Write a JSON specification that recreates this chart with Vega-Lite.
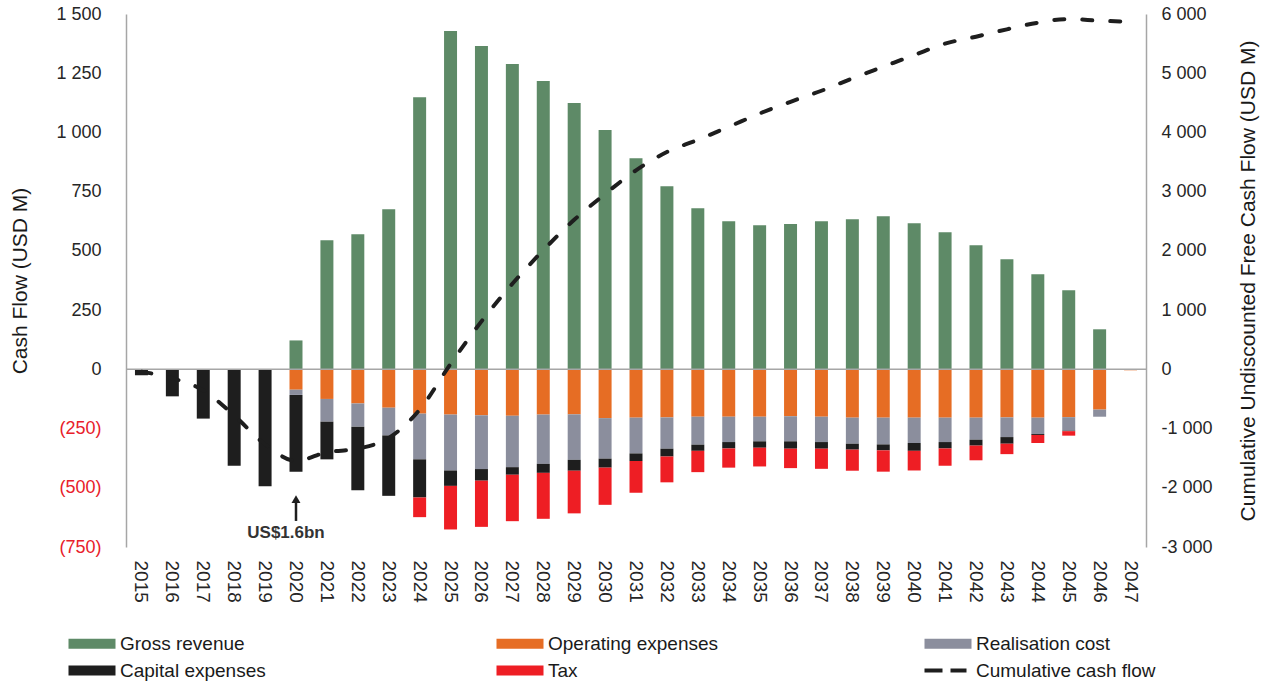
{
  "$schema": "https://vega.github.io/schema/vega-lite/v6.json",
  "width": 1020,
  "height": 533,
  "autosize": "none",
  "padding": {"left": 126, "top": 14, "right": 122, "bottom": 134},
  "background": "white",
  "config": {
    "view": {"stroke": null},
    "font": "Liberation Sans",
    "axis": {"labelFont": "Liberation Sans", "titleFont": "Liberation Sans", "titleFontWeight": "normal", "grid": false, "ticks": false}
  },
  "datasets": {
    "flows": [
      {"year": 2015, "category": "Capital expenses", "value": -25},
      {"year": 2016, "category": "Capital expenses", "value": -114},
      {"year": 2017, "category": "Capital expenses", "value": -208},
      {"year": 2018, "category": "Capital expenses", "value": -407},
      {"year": 2019, "category": "Capital expenses", "value": -494},
      {"year": 2020, "category": "Gross revenue", "value": 122},
      {"year": 2020, "category": "Operating expenses", "value": -86},
      {"year": 2020, "category": "Realisation cost", "value": -22},
      {"year": 2020, "category": "Capital expenses", "value": -324},
      {"year": 2021, "category": "Gross revenue", "value": 545},
      {"year": 2021, "category": "Operating expenses", "value": -125},
      {"year": 2021, "category": "Realisation cost", "value": -96},
      {"year": 2021, "category": "Capital expenses", "value": -159},
      {"year": 2022, "category": "Gross revenue", "value": 570},
      {"year": 2022, "category": "Operating expenses", "value": -144},
      {"year": 2022, "category": "Realisation cost", "value": -98},
      {"year": 2022, "category": "Capital expenses", "value": -268},
      {"year": 2023, "category": "Gross revenue", "value": 676},
      {"year": 2023, "category": "Operating expenses", "value": -162},
      {"year": 2023, "category": "Realisation cost", "value": -117},
      {"year": 2023, "category": "Capital expenses", "value": -255},
      {"year": 2024, "category": "Gross revenue", "value": 1149},
      {"year": 2024, "category": "Operating expenses", "value": -187},
      {"year": 2024, "category": "Realisation cost", "value": -193},
      {"year": 2024, "category": "Capital expenses", "value": -161},
      {"year": 2024, "category": "Tax", "value": -83},
      {"year": 2025, "category": "Gross revenue", "value": 1428},
      {"year": 2025, "category": "Operating expenses", "value": -191},
      {"year": 2025, "category": "Realisation cost", "value": -236},
      {"year": 2025, "category": "Capital expenses", "value": -65},
      {"year": 2025, "category": "Tax", "value": -184},
      {"year": 2026, "category": "Gross revenue", "value": 1365},
      {"year": 2026, "category": "Operating expenses", "value": -194},
      {"year": 2026, "category": "Realisation cost", "value": -227},
      {"year": 2026, "category": "Capital expenses", "value": -49},
      {"year": 2026, "category": "Tax", "value": -195},
      {"year": 2027, "category": "Gross revenue", "value": 1289},
      {"year": 2027, "category": "Operating expenses", "value": -196},
      {"year": 2027, "category": "Realisation cost", "value": -217},
      {"year": 2027, "category": "Capital expenses", "value": -32},
      {"year": 2027, "category": "Tax", "value": -196},
      {"year": 2028, "category": "Gross revenue", "value": 1217},
      {"year": 2028, "category": "Operating expenses", "value": -191},
      {"year": 2028, "category": "Realisation cost", "value": -208},
      {"year": 2028, "category": "Capital expenses", "value": -38},
      {"year": 2028, "category": "Tax", "value": -194},
      {"year": 2029, "category": "Gross revenue", "value": 1124},
      {"year": 2029, "category": "Operating expenses", "value": -190},
      {"year": 2029, "category": "Realisation cost", "value": -192},
      {"year": 2029, "category": "Capital expenses", "value": -46},
      {"year": 2029, "category": "Tax", "value": -180},
      {"year": 2030, "category": "Gross revenue", "value": 1010},
      {"year": 2030, "category": "Operating expenses", "value": -206},
      {"year": 2030, "category": "Realisation cost", "value": -171},
      {"year": 2030, "category": "Capital expenses", "value": -38},
      {"year": 2030, "category": "Tax", "value": -157},
      {"year": 2031, "category": "Gross revenue", "value": 891},
      {"year": 2031, "category": "Operating expenses", "value": -204},
      {"year": 2031, "category": "Realisation cost", "value": -151},
      {"year": 2031, "category": "Capital expenses", "value": -32},
      {"year": 2031, "category": "Tax", "value": -134},
      {"year": 2032, "category": "Gross revenue", "value": 773},
      {"year": 2032, "category": "Operating expenses", "value": -203},
      {"year": 2032, "category": "Realisation cost", "value": -132},
      {"year": 2032, "category": "Capital expenses", "value": -33},
      {"year": 2032, "category": "Tax", "value": -109},
      {"year": 2033, "category": "Gross revenue", "value": 680},
      {"year": 2033, "category": "Operating expenses", "value": -200},
      {"year": 2033, "category": "Realisation cost", "value": -118},
      {"year": 2033, "category": "Capital expenses", "value": -26},
      {"year": 2033, "category": "Tax", "value": -90},
      {"year": 2034, "category": "Gross revenue", "value": 625},
      {"year": 2034, "category": "Operating expenses", "value": -200},
      {"year": 2034, "category": "Realisation cost", "value": -107},
      {"year": 2034, "category": "Capital expenses", "value": -27},
      {"year": 2034, "category": "Tax", "value": -81},
      {"year": 2035, "category": "Gross revenue", "value": 608},
      {"year": 2035, "category": "Operating expenses", "value": -200},
      {"year": 2035, "category": "Realisation cost", "value": -104},
      {"year": 2035, "category": "Capital expenses", "value": -27},
      {"year": 2035, "category": "Tax", "value": -79},
      {"year": 2036, "category": "Gross revenue", "value": 613},
      {"year": 2036, "category": "Operating expenses", "value": -198},
      {"year": 2036, "category": "Realisation cost", "value": -106},
      {"year": 2036, "category": "Capital expenses", "value": -31},
      {"year": 2036, "category": "Tax", "value": -82},
      {"year": 2037, "category": "Gross revenue", "value": 625},
      {"year": 2037, "category": "Operating expenses", "value": -200},
      {"year": 2037, "category": "Realisation cost", "value": -107},
      {"year": 2037, "category": "Capital expenses", "value": -28},
      {"year": 2037, "category": "Tax", "value": -85},
      {"year": 2038, "category": "Gross revenue", "value": 634},
      {"year": 2038, "category": "Operating expenses", "value": -204},
      {"year": 2038, "category": "Realisation cost", "value": -110},
      {"year": 2038, "category": "Capital expenses", "value": -25},
      {"year": 2038, "category": "Tax", "value": -89},
      {"year": 2039, "category": "Gross revenue", "value": 646},
      {"year": 2039, "category": "Operating expenses", "value": -204},
      {"year": 2039, "category": "Realisation cost", "value": -113},
      {"year": 2039, "category": "Capital expenses", "value": -25},
      {"year": 2039, "category": "Tax", "value": -90},
      {"year": 2040, "category": "Gross revenue", "value": 617},
      {"year": 2040, "category": "Operating expenses", "value": -204},
      {"year": 2040, "category": "Realisation cost", "value": -107},
      {"year": 2040, "category": "Capital expenses", "value": -33},
      {"year": 2040, "category": "Tax", "value": -83},
      {"year": 2041, "category": "Gross revenue", "value": 579},
      {"year": 2041, "category": "Operating expenses", "value": -204},
      {"year": 2041, "category": "Realisation cost", "value": -103},
      {"year": 2041, "category": "Capital expenses", "value": -27},
      {"year": 2041, "category": "Tax", "value": -73},
      {"year": 2042, "category": "Gross revenue", "value": 524},
      {"year": 2042, "category": "Operating expenses", "value": -204},
      {"year": 2042, "category": "Realisation cost", "value": -93},
      {"year": 2042, "category": "Capital expenses", "value": -25},
      {"year": 2042, "category": "Tax", "value": -62},
      {"year": 2043, "category": "Gross revenue", "value": 465},
      {"year": 2043, "category": "Operating expenses", "value": -203},
      {"year": 2043, "category": "Realisation cost", "value": -83},
      {"year": 2043, "category": "Capital expenses", "value": -28},
      {"year": 2043, "category": "Tax", "value": -44},
      {"year": 2044, "category": "Gross revenue", "value": 401},
      {"year": 2044, "category": "Operating expenses", "value": -204},
      {"year": 2044, "category": "Realisation cost", "value": -69},
      {"year": 2044, "category": "Capital expenses", "value": -4},
      {"year": 2044, "category": "Tax", "value": -34},
      {"year": 2045, "category": "Gross revenue", "value": 334},
      {"year": 2045, "category": "Operating expenses", "value": -202},
      {"year": 2045, "category": "Realisation cost", "value": -57},
      {"year": 2045, "category": "Capital expenses", "value": -2},
      {"year": 2045, "category": "Tax", "value": -19},
      {"year": 2046, "category": "Gross revenue", "value": 169},
      {"year": 2046, "category": "Operating expenses", "value": -170},
      {"year": 2046, "category": "Realisation cost", "value": -30},
      {"year": 2047, "category": "Operating expenses", "value": -4}
    ],
    "cum": [
      {"year": 2015, "cumulative": -40},
      {"year": 2016, "cumulative": -150},
      {"year": 2017, "cumulative": -355},
      {"year": 2018, "cumulative": -780},
      {"year": 2019, "cumulative": -1265},
      {"year": 2020, "cumulative": -1545},
      {"year": 2021, "cumulative": -1400},
      {"year": 2022, "cumulative": -1340},
      {"year": 2023, "cumulative": -1160},
      {"year": 2024, "cumulative": -680},
      {"year": 2025, "cumulative": 90},
      {"year": 2026, "cumulative": 810},
      {"year": 2027, "cumulative": 1445},
      {"year": 2028, "cumulative": 2011},
      {"year": 2029, "cumulative": 2525},
      {"year": 2030, "cumulative": 2960},
      {"year": 2031, "cumulative": 3360},
      {"year": 2032, "cumulative": 3670},
      {"year": 2033, "cumulative": 3875},
      {"year": 2034, "cumulative": 4095},
      {"year": 2035, "cumulative": 4320},
      {"year": 2036, "cumulative": 4518},
      {"year": 2037, "cumulative": 4704},
      {"year": 2038, "cumulative": 4913},
      {"year": 2039, "cumulative": 5110},
      {"year": 2040, "cumulative": 5307},
      {"year": 2041, "cumulative": 5500},
      {"year": 2042, "cumulative": 5617},
      {"year": 2043, "cumulative": 5741},
      {"year": 2044, "cumulative": 5853},
      {"year": 2045, "cumulative": 5915},
      {"year": 2046, "cumulative": 5887},
      {"year": 2047, "cumulative": 5870}
    ]
  },
  "layer": [
    {
      "layer": [
        {
          "data": {"name": "flows"},
          "transform": [
            {"calculate": "indexof(['Gross revenue','Operating expenses','Realisation cost','Capital expenses','Tax'], datum.category)", "as": "k"}
          ],
          "mark": {"type": "bar"},
          "encoding": {
            "x": {
              "field": "year", "type": "ordinal",
              "scale": {"paddingInner": 0.58, "paddingOuter": 0.29},
              "axis": {"title": null, "labelAngle": 90, "labelFontSize": 19, "labelPadding": 13, "domain": false, "ticks": false, "labelColor": "#262626"}
            },
            "y": {
              "field": "value", "type": "quantitative", "stack": "zero",
              "scale": {"domain": [-750, 1500], "nice": false, "zero": false},
              "axis": {
                "title": "Cash Flow (USD M)", "titleFontSize": 21, "titleColor": "#1a1a1a", "titlePadding": 25,
                "values": [-750, -500, -250, 0, 250, 500, 750, 1000, 1250, 1500],
                "labelExpr": "datum.value < 0 ? '(' + format(-datum.value, ',') + ')' : replace(format(datum.value, ','), ',', ' ')",
                "labelFontSize": 18, "labelPadding": 25,
                "labelColor": {"condition": {"test": "datum.value < 0", "value": "#e8202a"}, "value": "#262626"},
                "domainColor": "#a6a6a6", "domainWidth": 1.5, "ticks": false, "grid": false
              }
            },
            "color": {
              "field": "category", "type": "nominal",
              "scale": {
                "domain": ["Gross revenue", "Operating expenses", "Realisation cost", "Capital expenses", "Tax", "Cumulative cash flow"],
                "range": ["#5e8a67", "#e66d24", "#8b8e9d", "#1e1e1e", "#ee1e24", "#1e1e1e"]
              },
              "legend": {
                "title": null, "orient": "none", "legendX": -62, "legendY": 620, "direction": "horizontal",
                "columns": 3, "gridAlign": "all", "columnPadding": 192, "rowPadding": 7,
                "symbolSize": 100, "labelFontSize": 19, "labelFont": "Liberation Sans", "labelColor": "#1a1a1a",
                "labelLimit": 400, "labelOffset": 37, "symbolStrokeWidth": 0, "symbolOpacity": 1,
                "encode": {
                  "symbols": {
                    "update": {
                      "shape": {"signal": "datum.value === 'Cumulative cash flow' ? 'M-1,-0.4L2.6,-0.4L2.6,0.4L-1,0.4ZM4.2,-0.4L7.4,-0.4L7.4,0.4L4.2,0.4Z' : 'M-1,-1L8.4,-1L8.4,1L-1,1Z'"}
                    }
                  }
                }
              }
            },
            "order": {"field": "k", "type": "quantitative"}
          }
        },
        {
          "data": {"values": [{}]},
          "mark": {"type": "rule", "color": "#a6a6a6", "strokeWidth": 1.5},
          "encoding": {"y": {"datum": 0, "type": "quantitative"}}
        },
        {
          "data": {"values": [{}]},
          "mark": {"type": "rule", "color": "#1e1e1e", "strokeWidth": 2.5},
          "encoding": {
            "x": {"datum": 2020, "type": "ordinal"},
            "y": {"datum": -640, "type": "quantitative"},
            "y2": {"datum": -550}
          }
        },
        {
          "data": {"values": [{}]},
          "mark": {"type": "point", "shape": "triangle-up", "filled": true, "color": "#1e1e1e", "size": 80, "opacity": 1},
          "encoding": {
            "x": {"datum": 2020, "type": "ordinal"},
            "y": {"datum": -548, "type": "quantitative"}
          }
        },
        {
          "data": {"values": [{}]},
          "mark": {"type": "text", "text": "US$1.6bn", "fontWeight": "bold", "fontSize": 17, "dx": -10, "color": "#333333"},
          "encoding": {
            "x": {"datum": 2020, "type": "ordinal"},
            "y": {"datum": -693, "type": "quantitative"}
          }
        }
      ]
    },
    {
      "data": {"name": "cum"},
      "mark": {"type": "line", "color": "#1e1e1e", "strokeWidth": 4, "strokeDash": [10, 18], "strokeCap": "round", "interpolate": "monotone"},
      "encoding": {
        "x": {"field": "year", "type": "ordinal"},
        "y": {
          "field": "cumulative", "type": "quantitative",
          "scale": {"domain": [-3000, 6000], "nice": false, "zero": false},
          "axis": {
            "orient": "right", "title": "Cumulative Undiscounted Free Cash Flow (USD M)", "titleFontSize": 21, "titleColor": "#1a1a1a", "titlePadding": 46, "titleAngle": -90,
            "values": [-3000, -2000, -1000, 0, 1000, 2000, 3000, 4000, 5000, 6000],
            "labelExpr": "(datum.value < 0 ? '-' : '') + replace(format(abs(datum.value), ','), ',', ' ')",
            "labelFontSize": 18, "labelPadding": 15, "labelColor": "#262626",
            "domainColor": "#a6a6a6", "domainWidth": 1.5, "ticks": false, "grid": false
          }
        }
      }
    }
  ],
  "resolve": {"scale": {"y": "independent"}}
}
